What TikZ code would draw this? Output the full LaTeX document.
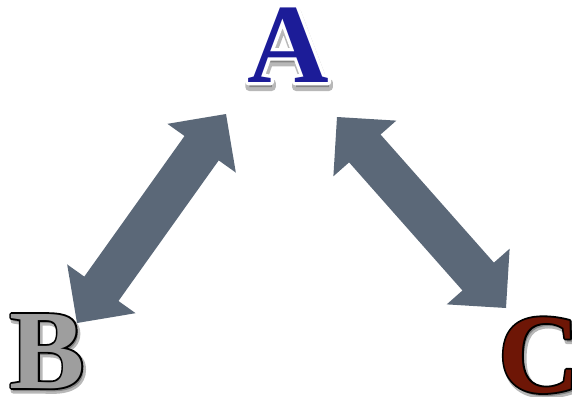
\documentclass[tikz,border=0pt]{standalone}
\usepackage{fontspec}
\setmainfont{Liberation Serif}
\usetikzlibrary{calc}
\definecolor{arrowfill}{RGB}{91,104,120}
\definecolor{letterA}{RGB}{28,28,152}
\definecolor{letterB}{RGB}{158,158,158}
\definecolor{letterC}{RGB}{110,22,6}
% stroke-only text: #1 line width, #2 stroke colour (rgb triple), #3 text
\newcommand{\strokedtext}[3]{\special{pdf:literal #2 RG #1 w 1 j 1 Tr}#3\special{pdf:literal 0 Tr}}
% fill+stroke text in one colour
\newcommand{\fatText}[3]{\special{pdf:literal #2 RG #2 rg #1 w 1 j 2 Tr}#3\special{pdf:literal 0 Tr}}
\newcommand{\dblarrowpoly}[2]{%
  \fill[arrowstyle] (#1)
    -- ($(#1)!42pt!(#2)!42pt!90:(#2)$)
    -- ($(#1)!42pt!(#2)!21pt!90:(#2)$)
    -- ($(#2)!42pt!(#1)!21pt!-90:(#1)$)
    -- ($(#2)!42pt!(#1)!42pt!-90:(#1)$)
    -- (#2)
    -- ($(#2)!42pt!(#1)!42pt!90:(#1)$)
    -- ($(#2)!42pt!(#1)!21pt!90:(#1)$)
    -- ($(#1)!42pt!(#2)!21pt!-90:(#2)$)
    -- ($(#1)!42pt!(#2)!42pt!-90:(#2)$)
    -- cycle;}
\begin{document}
\begin{tikzpicture}[x=1pt,y=-1pt,
  arrowstyle/.style={fill=arrowfill},
  letterstyle/.style={inner sep=0pt,anchor=base,font=\bfseries\fontsize{113}{113}\selectfont},
  shadowstyle/.style={letterstyle,opacity=0.28}]
\useasboundingbox (0,0) rectangle (572,396);
% arrow end points
\coordinate (l1) at (226,114);
\coordinate (l2) at (77,323);
\coordinate (r1) at (337,117);
\coordinate (r2) at (506,308);
\dblarrowpoly{l1}{l2}
\dblarrowpoly{r1}{r2}
% A
\node[shadowstyle] (As) at (289,87) {\fatText{8}{0 0 0}{A}};
\node[letterstyle] (Ao) at (288,82) {\strokedtext{6.5}{1 1 1}{A}};
\node[letterstyle,text=letterA] (A) at (288,82) {A};
% B
\node[shadowstyle] (Bs) at (49,391) {\fatText{5}{0 0 0}{B}};
\node[letterstyle] (Bo) at (47,388) {\strokedtext{3.6}{0 0 0}{B}};
\node[letterstyle,text=letterB] (B) at (47,388) {B};
% C
\node[shadowstyle] (Cs) at (541,395) {\fatText{5}{0 0 0}{C}};
\node[letterstyle] (Co) at (539,392) {\strokedtext{3.6}{0 0 0}{C}};
\node[letterstyle,text=letterC] (C) at (539,392) {C};
\end{tikzpicture}
\end{document}
